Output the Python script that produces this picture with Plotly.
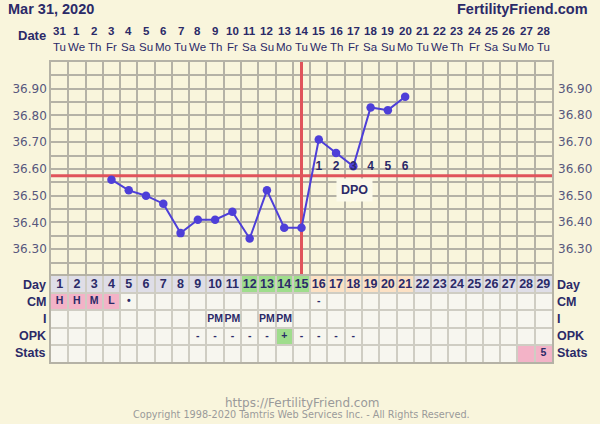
import plotly.graph_objects as go

# cycle days and calendar labels
days = list(range(1, 30))
dates = ["31", "1", "2", "3", "4", "5", "6", "7", "8", "9", "10", "11", "12", "13", "14",
         "15", "16", "17", "18", "19", "20", "21", "22", "23", "24", "25", "26", "27", "28"]
weekdays = ["Tu", "We", "Th", "Fr", "Sa", "Su", "Mo", "Tu", "We", "Th", "Fr", "Sa", "Su", "Mo", "Tu",
            "We", "Th", "Fr", "Sa", "Su", "Mo", "Tu", "We", "Th", "Fr", "Sa", "Su", "Mo", "Tu"]

# temperatures (C)
temp_days = [4, 5, 6, 7, 8, 9, 10, 11, 12, 13, 14, 15, 16, 17, 18, 19, 20, 21]
temps = [36.56, 36.52, 36.50, 36.47, 36.36, 36.41, 36.41, 36.44, 36.34, 36.52, 36.38, 36.38,
         36.71, 36.66, 36.61, 36.83, 36.82, 36.87]
temp_grid = [36.20, 36.25, 36.30, 36.35, 36.40, 36.45, 36.50, 36.55, 36.60, 36.65, 36.70,
             36.75, 36.80, 36.85, 36.90, 36.95, 37.00]
temp_ticks = [36.30, 36.40, 36.50, 36.60, 36.70, 36.80, 36.90]
temp_labels = ["36.30", "36.40", "36.50", "36.60", "36.70", "36.80", "36.90"]
coverline = 36.575
ovulation_day = 15
dpo_days = [16, 17, 18, 19, 20, 21]
dpo_labels = ["1", "2", "3", "4", "5", "6"]

# chart rows
row_names = ["Day", "CM", "I", "OPK", "Stats"]
cm_days = [1, 2, 3, 4, 5, 16]
cm_vals = ["H", "H", "M", "L", "•", "-"]
i_days = [10, 11, 13, 14]
i_vals = ["PM", "PM", "PM", "PM"]
opk_days = [9, 10, 11, 12, 13, 14, 15, 16, 17, 18]
opk_vals = ["-", "-", "-", "-", "-", "+", "-", "-", "-", "-"]
stats_days = [29]
stats_vals = ["5"]

green_days = [12, 13, 14, 15]
peach_days = [16, 17, 18, 19, 20, 21]
pink_cm_days = [1, 2, 3, 4]
green_opk_days = [14]
pink_stats_days = [28, 29]

BG = "#f9f5dc"
GRID = "#b5b2a6"
TGRID = "#cfcdc3"
CELL = "#f7f6ef"
DAYCELL = "#dfdee7"
GREEN = "#9fdd8c"
PEACH = "#fce1c4"
PINK = "#f3b3c7"
RED = "#e0535b"
BLUE = "#4e3fd8"
INK = "#2b2a68"
TICK = "#57577d"
FONT = "DejaVu Sans"
BOLD = "Liberation Sans"

bounds = [d - 0.5 for d in days] + [29.5]

fig = go.Figure()

fig.add_trace(go.Scatter(x=temp_days, y=temps, mode="lines+markers",
                         line=dict(color=BLUE, width=2),
                         marker=dict(color=BLUE, size=8.5),
                         xaxis="x", yaxis="y", hoverinfo="skip"))
fig.add_trace(go.Scatter(x=dpo_days, y=[36.607] * len(dpo_days), text=dpo_labels, mode="text",
                         textfont=dict(family=BOLD, size=12, color=INK, weight="bold"),
                         xaxis="x", yaxis="y"))

# table text
fig.add_trace(go.Scatter(x=days, y=[0.5] * 29, text=[str(d) for d in days], mode="text",
                         textfont=dict(family=BOLD, size=12.5, color=INK, weight="bold"),
                         xaxis="x2", yaxis="y2"))
for row, xs, vals in [(1.5, cm_days, cm_vals), (2.5, i_days, i_vals),
                      (3.5, opk_days, opk_vals), (4.5, stats_days, stats_vals)]:
    fig.add_trace(go.Scatter(x=xs, y=[row] * len(xs), text=vals, mode="text",
                             textfont=dict(family=BOLD, size=10.5, color=INK, weight="bold"),
                             xaxis="x2", yaxis="y2"))

shapes = []
# table backgrounds
shapes.append(dict(type="rect", xref="x2", yref="y2", x0=0.5, x1=29.5, y0=0, y1=1,
                   fillcolor=DAYCELL, line_width=0, layer="below"))
shapes.append(dict(type="rect", xref="x2", yref="y2", x0=0.5, x1=29.5, y0=1, y1=5,
                   fillcolor=CELL, line_width=0, layer="below"))
for row, ds, col in [(0, green_days, GREEN), (0, peach_days, PEACH), (1, pink_cm_days, PINK),
                     (3, green_opk_days, GREEN), (4, pink_stats_days, PINK)]:
    for d in ds:
        shapes.append(dict(type="rect", xref="x2", yref="y2", x0=d - 0.5, x1=d + 0.5,
                           y0=row, y1=row + 1, fillcolor=col, line_width=0, layer="below"))
# ovulation and coverline
shapes.append(dict(type="line", xref="x", yref="y", x0=ovulation_day, x1=ovulation_day,
                   y0=36.2, y1=37.0, line=dict(color=RED, width=3), layer="between"))
shapes.append(dict(type="line", xref="x", yref="y", x0=0.5, x1=29.5, y0=coverline, y1=coverline,
                   line=dict(color=RED, width=3), layer="between"))

annotations = [
    dict(text="<b>Mar 31, 2020</b>", xref="paper", yref="paper", x=-0.089, y=1.177,
         xanchor="left", yanchor="middle", showarrow=False, font=dict(family=BOLD, size=14.5, color=INK)),
    dict(text="<b>FertilityFriend.com</b>", xref="paper", yref="paper", x=1.075, y=1.177,
         xanchor="right", yanchor="middle", showarrow=False, font=dict(family=BOLD, size=14.5, color=INK)),
    dict(text="<b>Date</b>", xref="paper", yref="paper", x=-0.006, y=1.088,
         xanchor="right", yanchor="middle", showarrow=False, font=dict(family=BOLD, size=13, color=INK)),
    dict(text="<b>DPO</b>", xref="x", yref="y", x=18.05, y=36.522, showarrow=False,
         xanchor="center", yanchor="middle", bgcolor="#fbf9ea", borderpad=4,
         font=dict(family=BOLD, size=12.5, color=INK)),
    dict(text="https://FertilityFriend.com", xref="paper", yref="paper", x=0.5, y=-0.135,
         xanchor="center", yanchor="middle", showarrow=False, font=dict(family=FONT, size=12, color="#9a9a9a")),
    dict(text="Copyright 1998-2020 Tamtris Web Services Inc. - All Rights Reserved.", xref="paper",
         yref="paper", x=0.5, y=-0.174, xanchor="center", yanchor="middle", showarrow=False,
         font=dict(family=FONT, size=9.7, color="#9a9a9a")),
]
for i, name in enumerate(row_names):
    for xx, anc in [(-0.006, "right"), (1.006, "left")]:
        annotations.append(dict(text="<b>%s</b>" % name, xref="paper", yref="y2", x=xx, y=i + 0.5,
                                xanchor=anc, yanchor="middle", showarrow=False,
                                font=dict(family=BOLD, size=12.5, color=INK)))
for d, dt, wd in zip(days, dates, weekdays):
    annotations.append(dict(text="<b>%s</b>" % dt, xref="x", yref="paper", x=d, y=1.103,
                            xanchor="center", yanchor="middle", showarrow=False,
                            font=dict(family=BOLD, size=11.5, color=INK)))
    annotations.append(dict(text=wd, xref="x", yref="paper", x=d, y=1.05,
                            xanchor="center", yanchor="middle", showarrow=False,
                            font=dict(family=BOLD, size=11.5, color=INK)))
for v, lab in zip(temp_ticks, temp_labels):
    annotations.append(dict(text=lab, xref="paper", yref="y", x=1.0, y=v, xshift=4,
                            xanchor="left", yanchor="middle", showarrow=False,
                            font=dict(family=FONT, size=12, color=TICK)))

fig.update_layout(
    width=600, height=424, showlegend=False,
    margin=dict(l=48, r=48, t=62, b=62),
    paper_bgcolor=BG, plot_bgcolor=BG,
    font=dict(family=FONT, color=INK),
    shapes=shapes, annotations=annotations,
    xaxis=dict(domain=[0, 1], anchor="y", range=[0.5, 29.5], tickvals=bounds, showticklabels=False,
               showgrid=True, gridcolor=GRID, gridwidth=1.5, zeroline=False, ticks="",
               showline=True, linecolor=GRID, linewidth=1.5, mirror=True),
    yaxis=dict(domain=[0.287, 1], anchor="x", range=[36.2, 37.0], tickvals=temp_grid,
               ticktext=["%.2f" % v if v in temp_ticks else "" for v in temp_grid],
               showgrid=True, gridcolor=GRID, gridwidth=1.5, zeroline=False, ticks="",
               tickfont=dict(size=12, color=TICK), showline=True, linecolor=GRID, linewidth=1.5, mirror=True),
    xaxis2=dict(domain=[0, 1], anchor="y2", range=[0.5, 29.5], tickvals=bounds, showticklabels=False,
                showgrid=True, gridcolor=TGRID, gridwidth=1.5, zeroline=False, ticks="",
                showline=True, linecolor=GRID, linewidth=1.5, mirror=True),
    yaxis2=dict(domain=[0, 0.287], anchor="x2", range=[5, 0], tickvals=[0, 1, 2, 3, 4, 5],
                showticklabels=False, showgrid=True, gridcolor=TGRID, gridwidth=1.5, zeroline=False,
                ticks="", showline=True, linecolor=GRID, linewidth=1.5, mirror=True),
)

fig.write_html("out.html", config={"displayModeBar": False},
               post_script="document.body.style.margin='0';")
